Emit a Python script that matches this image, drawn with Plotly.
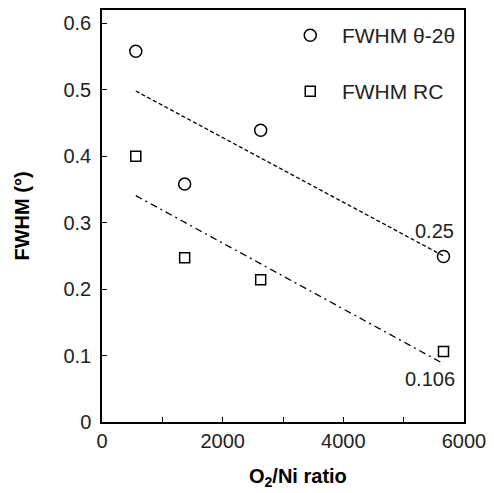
import numpy as np
import plotly.graph_objects as go

# Data
o2_ni = [560, 1370, 2630, 5660]
fwhm_2theta = [0.558, 0.358, 0.439, 0.249]
fwhm_rc = [0.400, 0.247, 0.214, 0.106]
x_ticks = [0, 2000, 4000, 6000]
y_ticks = [0, 0.1, 0.2, 0.3, 0.4, 0.5, 0.6]
y_tick_text = ["0", "0.1", "0.2", "0.3", "0.4", "0.5", "0.6"]

FONT = "Liberation Sans, Arial, sans-serif"
FS = 20

def linfit(x, y):
    x = np.array(x, float); y = np.array(y, float)
    m, b = np.polyfit(x, y, 1)
    xs = np.array([x.min(), x.max()])
    return xs, m * xs + b

fig = go.Figure()

fx, fy = linfit(o2_ni, fwhm_2theta)
fig.add_trace(go.Scatter(x=fx, y=fy, mode="lines", showlegend=False,
                         line=dict(color="black", width=1.3, dash="4px,2.5px")))
fx2, fy2 = linfit(o2_ni, fwhm_rc)
fig.add_trace(go.Scatter(x=fx2, y=fy2, mode="lines", showlegend=False,
                         line=dict(color="black", width=1.3, dash="7px,4px,2px,4px")))

fig.add_trace(go.Scatter(x=o2_ni, y=fwhm_2theta, mode="markers", name="\u00a0\u00a0FWHM θ-2θ",
                         marker=dict(symbol="circle-open", size=12, color="black",
                                     line=dict(width=1.5, color="black")),
                         legend="legend"))
fig.add_trace(go.Scatter(x=o2_ni, y=fwhm_rc, mode="markers", name="\u00a0\u00a0FWHM RC",
                         marker=dict(symbol="square-open", size=10, color="black",
                                     line=dict(width=1.5, color="black")),
                         legend="legend2"))

fig.add_annotation(x=o2_ni[-1], y=fwhm_2theta[-1], text="0.25", showarrow=False,
                   xshift=-9, yshift=26, font=dict(size=FS, color="#222", family=FONT))
fig.add_annotation(x=o2_ni[-1], y=fwhm_rc[-1], text="0.106", showarrow=False,
                   xshift=-13, yshift=-27, font=dict(size=FS, color="#222", family=FONT))

# x-axis title placed as an annotation (offset to the right like the reference)
fig.add_annotation(xref="paper", yref="paper", x=0.541, y=-0.135, xanchor="center", yanchor="middle",
                   text="<b>O<sub>2</sub>/Ni ratio</b>", showarrow=False,
                   font=dict(size=FS, color="black", family=FONT))

axis_common = dict(showline=True, linecolor="black", linewidth=1.5, mirror=True,
                   ticks="inside", ticklen=5, tickwidth=1.3, tickcolor="black",
                   showgrid=False, zeroline=False,
                   tickfont=dict(size=FS, color="#222", family=FONT))

fig.update_xaxes(range=[0, 6000], tickvals=x_ticks, **axis_common,
                 minor=dict(dtick=1000, ticks="inside", ticklen=5, tickcolor="black", tickwidth=1.3))
fig.update_yaxes(range=[0, 0.62], tickvals=y_ticks, ticktext=y_tick_text,
                 ticklabelstandoff=5,
                 **axis_common,
                 title=dict(text="<b>FWHM (°)</b>", standoff=28,
                            font=dict(size=FS, color="black", family=FONT)))

leg_common = dict(xref="paper", yref="paper", xanchor="left", yanchor="middle",
                  bgcolor="rgba(0,0,0,0)", borderwidth=0,
                  font=dict(size=21, color="#222", family=FONT))
fig.update_layout(
    width=494, height=493,
    margin=dict(l=102, r=27, t=8, b=71),
    paper_bgcolor="white", plot_bgcolor="white",
    font=dict(family=FONT),
    legend=dict(x=0.52, y=0.938, **leg_common),
    legend2=dict(x=0.52, y=0.802, **leg_common),
)

fig.write_html("out.html")
